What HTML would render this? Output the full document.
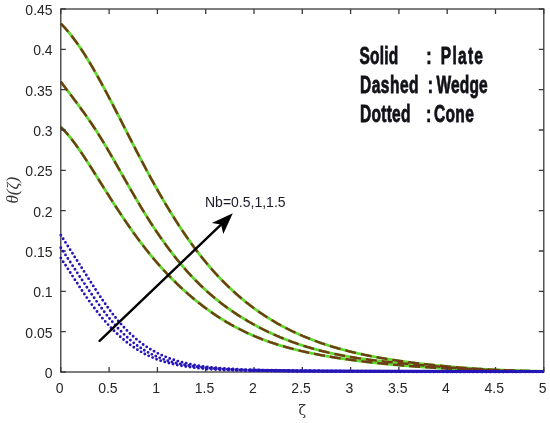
<!DOCTYPE html>
<html><head><meta charset="utf-8"><style>
html,body{margin:0;padding:0;background:#fff;}
svg{display:block;}
</style></head><body>
<svg width="550" height="423" viewBox="0 0 550 423">
<rect width="550" height="423" fill="#fff"/>
<g fill="none" stroke-linejoin="round">
<path d="M60.8 23.7L61.8 24.7L62.8 25.7L63.8 26.7L64.8 27.8L65.8 28.9L66.8 30.1L67.8 31.2L68.8 32.4L69.8 33.6L70.8 34.9L71.8 36.1L72.8 37.4L73.8 38.7L74.8 40.1L75.8 41.4L76.8 42.8L77.8 44.2L78.8 45.7L79.8 47.1L80.8 48.6L81.8 50.1L82.8 51.6L83.8 53.2L84.8 54.7L85.8 56.3L86.8 57.9L87.8 59.5L88.8 61.2L89.8 62.8L90.8 64.5L91.8 66.2L92.8 67.9L93.8 69.6L94.8 71.4L95.8 73.1L96.8 74.9L97.8 76.7L98.8 78.5L99.8 80.3L100.8 82.1L101.8 83.9L102.8 85.8L103.8 87.6L104.8 89.5L105.8 91.4L106.8 93.3L107.8 95.2L108.8 97.1L109.8 99.0L110.8 100.9L111.8 102.8L112.8 104.7L113.8 106.7L114.8 108.6L115.8 110.6L116.8 112.5L117.8 114.5L118.8 116.4L119.8 118.4L120.8 120.3L121.8 122.3L122.8 124.3L123.8 126.2L124.8 128.2L125.8 130.1L126.8 132.1L127.8 134.1L128.8 136.0L129.8 138.0L130.8 139.9L131.8 141.9L132.8 143.8L133.8 145.8L134.8 147.7L135.8 149.6L136.8 151.6L137.8 153.5L138.8 155.4L139.8 157.3L140.8 159.2L141.8 161.2L142.8 163.0L143.8 164.9L144.8 166.8L145.8 168.7L146.8 170.6L147.8 172.4L148.8 174.3L149.8 176.1L150.8 178.0L151.8 179.8L152.8 181.6L153.8 183.4L154.8 185.2L155.8 187.0L156.8 188.8L157.8 190.6L158.8 192.3L159.8 194.1L160.8 195.8L161.8 197.5L162.8 199.3L163.8 201.0L164.8 202.7L165.8 204.4L166.8 206.0L167.8 207.7L168.8 209.3L169.8 211.0L170.8 212.6L171.8 214.2L172.8 215.9L173.8 217.4L174.8 219.0L175.8 220.6L176.8 222.2L177.8 223.7L178.8 225.3L179.8 226.8L180.8 228.3L181.8 229.8L182.8 231.3L183.8 232.8L184.8 234.2L185.8 235.7L186.8 237.1L187.8 238.6L188.8 240.0L189.8 241.4L190.8 242.8L191.8 244.2L192.8 245.5L193.8 246.9L194.8 248.2L195.8 249.6L196.8 250.9L197.8 252.2L198.8 253.5L199.8 254.8L200.8 256.0L201.8 257.3L202.8 258.5L203.8 259.8L204.8 261.0L205.8 262.2L206.8 263.4L207.8 264.6L208.8 265.8L209.8 266.9L210.8 268.1L211.8 269.2L212.8 270.4L213.8 271.5L214.8 272.6L215.8 273.7L216.8 274.8L217.8 275.9L218.8 276.9L219.8 278.0L220.8 279.0L221.8 280.1L222.8 281.1L223.8 282.1L224.8 283.1L225.8 284.1L226.8 285.1L227.8 286.1L228.8 287.0L229.8 288.0L230.8 288.9L231.8 289.8L232.8 290.8L233.8 291.7L234.8 292.6L235.8 293.5L236.8 294.4L237.8 295.3L238.8 296.1L239.8 297.0L240.8 297.8L241.8 298.7L242.8 299.5L243.8 300.3L244.8 301.1L245.8 302.0L246.8 302.8L247.8 303.5L248.8 304.3L249.8 305.1L250.8 305.9L251.8 306.6L252.8 307.4L253.8 308.1L254.8 308.8L255.8 309.6L256.8 310.3L257.8 311.0L258.8 311.7L259.8 312.4L260.8 313.1L261.8 313.8L262.8 314.4L263.8 315.1L264.8 315.7L265.8 316.4L266.8 317.0L267.8 317.7L268.8 318.3L269.8 318.9L270.8 319.5L271.8 320.1L272.8 320.7L273.8 321.3L274.8 321.9L275.8 322.5L276.8 323.1L277.8 323.7L278.8 324.2L279.8 324.8L280.8 325.3L281.8 325.9L282.8 326.4L283.8 326.9L284.8 327.5L285.8 328.0L286.8 328.5L287.8 329.0L288.8 329.5L289.8 330.0L290.8 330.5L291.8 331.0L292.8 331.5L293.8 331.9L294.8 332.4L295.8 332.9L296.8 333.3L297.8 333.8L298.8 334.2L299.8 334.7L300.8 335.1L301.8 335.5L302.8 336.0L303.8 336.4L304.8 336.8L305.8 337.2L306.8 337.6L307.8 338.0L308.8 338.4L309.8 338.8L310.8 339.2L311.8 339.6L312.8 340.0L313.8 340.4L314.8 340.8L315.8 341.1L316.8 341.5L317.8 341.9L318.8 342.2L319.8 342.6L320.8 342.9L321.8 343.3L322.8 343.6L323.8 343.9L324.8 344.3L325.8 344.6L326.8 344.9L327.8 345.2L328.8 345.6L329.8 345.9L330.8 346.2L331.8 346.5L332.8 346.8L333.8 347.1L334.8 347.4L335.8 347.7L336.8 348.0L337.8 348.3L338.8 348.6L339.8 348.8L340.8 349.1L341.8 349.4L342.8 349.7L343.8 349.9L344.8 350.2L345.8 350.4L346.8 350.7L347.8 351.0L348.8 351.2L349.8 351.5L350.8 351.7L351.8 352.0L352.8 352.2L353.8 352.4L354.8 352.7L355.8 352.9L356.8 353.1L357.8 353.4L358.8 353.6L359.8 353.8L360.8 354.0L361.8 354.2L362.8 354.5L363.8 354.7L364.8 354.9L365.8 355.1L366.8 355.3L367.8 355.5L368.8 355.7L369.8 355.9L370.8 356.1L371.8 356.3L372.8 356.5L373.8 356.7L374.8 356.8L375.8 357.0L376.8 357.2L377.8 357.4L378.8 357.6L379.8 357.8L380.8 357.9L381.8 358.1L382.8 358.3L383.8 358.4L384.8 358.6L385.8 358.8L386.8 358.9L387.8 359.1L388.8 359.3L389.8 359.4L390.8 359.6L391.8 359.7L392.8 359.9L393.8 360.1L394.8 360.2L395.8 360.4L396.8 360.5L397.8 360.7L398.8 360.8L399.8 360.9L400.8 361.1L401.8 361.2L402.8 361.4L403.8 361.5L404.8 361.7L405.8 361.8L406.8 361.9L407.8 362.1L408.8 362.2L409.8 362.3L410.8 362.5L411.8 362.6L412.8 362.7L413.8 362.8L414.8 363.0L415.8 363.1L416.8 363.2L417.8 363.3L418.8 363.5L419.8 363.6L420.8 363.7L421.8 363.8L422.8 363.9L423.8 364.0L424.8 364.2L425.8 364.3L426.8 364.4L427.8 364.5L428.8 364.6L429.8 364.7L430.8 364.8L431.8 364.9L432.8 365.0L433.8 365.1L434.8 365.2L435.8 365.3L436.8 365.4L437.8 365.6L438.8 365.7L439.8 365.8L440.8 365.8L441.8 365.9L442.8 366.0L443.8 366.1L444.8 366.2L445.8 366.3L446.8 366.4L447.8 366.5L448.8 366.6L449.8 366.7L450.8 366.8L451.8 366.9L452.8 367.0L453.8 367.0L454.8 367.1L455.8 367.2L456.8 367.3L457.8 367.4L458.8 367.5L459.8 367.6L460.8 367.6L461.8 367.7L462.8 367.8L463.8 367.9L464.8 367.9L465.8 368.0L466.8 368.1L467.8 368.2L468.8 368.2L469.8 368.3L470.8 368.4L471.8 368.5L472.8 368.5L473.8 368.6L474.8 368.7L475.8 368.7L476.8 368.8L477.8 368.9L478.8 368.9L479.8 369.0L480.8 369.0L481.8 369.1L482.8 369.2L483.8 369.2L484.8 369.3L485.8 369.3L486.8 369.4L487.8 369.4L488.8 369.5L489.8 369.6L490.8 369.6L491.8 369.7L492.8 369.7L493.8 369.8L494.8 369.8L495.8 369.9L496.8 369.9L497.8 369.9L498.8 370.0L499.8 370.0L500.8 370.1L501.8 370.1L502.8 370.2L503.8 370.2L504.8 370.2L505.8 370.3L506.8 370.3L507.8 370.4L508.8 370.4L509.8 370.4L510.8 370.5L511.8 370.5L512.8 370.5L513.8 370.6L514.8 370.6L515.8 370.6L516.8 370.7L517.8 370.7L518.8 370.7L519.8 370.8L520.8 370.8L521.8 370.8L522.8 370.9L523.8 370.9L524.8 370.9L525.8 370.9L526.8 371.0L527.8 371.0L528.8 371.0L529.8 371.0L530.8 371.1L531.8 371.1L532.8 371.1L533.8 371.1L534.8 371.1L535.8 371.2L536.8 371.2L537.8 371.2L538.8 371.2L539.8 371.2L540.8 371.3L541.8 371.3L542.8 371.3L543.8 371.3" stroke="#62d82e" stroke-width="2.8"/>
<path d="M60.8 81.8L61.8 83.1L62.8 84.4L63.8 85.8L64.8 87.1L65.8 88.4L66.8 89.7L67.8 91.0L68.8 92.3L69.8 93.7L70.8 95.0L71.8 96.3L72.8 97.6L73.8 98.9L74.8 100.3L75.8 101.6L76.8 102.9L77.8 104.3L78.8 105.6L79.8 107.0L80.8 108.4L81.8 109.7L82.8 111.1L83.8 112.5L84.8 113.9L85.8 115.3L86.8 116.7L87.8 118.2L88.8 119.6L89.8 121.1L90.8 122.5L91.8 124.0L92.8 125.5L93.8 127.0L94.8 128.5L95.8 130.1L96.8 131.6L97.8 133.2L98.8 134.8L99.8 136.4L100.8 138.0L101.8 139.6L102.8 141.2L103.8 142.9L104.8 144.6L105.8 146.2L106.8 147.9L107.8 149.6L108.8 151.3L109.8 153.0L110.8 154.8L111.8 156.5L112.8 158.2L113.8 160.0L114.8 161.7L115.8 163.5L116.8 165.2L117.8 167.0L118.8 168.7L119.8 170.5L120.8 172.3L121.8 174.0L122.8 175.8L123.8 177.5L124.8 179.3L125.8 181.0L126.8 182.8L127.8 184.5L128.8 186.3L129.8 188.0L130.8 189.8L131.8 191.5L132.8 193.2L133.8 194.9L134.8 196.7L135.8 198.4L136.8 200.1L137.8 201.8L138.8 203.4L139.8 205.1L140.8 206.8L141.8 208.4L142.8 210.1L143.8 211.7L144.8 213.3L145.8 215.0L146.8 216.6L147.8 218.2L148.8 219.7L149.8 221.3L150.8 222.9L151.8 224.4L152.8 225.9L153.8 227.5L154.8 229.0L155.8 230.5L156.8 232.0L157.8 233.4L158.8 234.9L159.8 236.4L160.8 237.8L161.8 239.2L162.8 240.6L163.8 242.0L164.8 243.4L165.8 244.8L166.8 246.2L167.8 247.5L168.8 248.9L169.8 250.2L170.8 251.5L171.8 252.8L172.8 254.1L173.8 255.4L174.8 256.7L175.8 257.9L176.8 259.2L177.8 260.4L178.8 261.6L179.8 262.8L180.8 264.0L181.8 265.2L182.8 266.4L183.8 267.6L184.8 268.7L185.8 269.8L186.8 271.0L187.8 272.1L188.8 273.2L189.8 274.3L190.8 275.4L191.8 276.4L192.8 277.5L193.8 278.5L194.8 279.6L195.8 280.6L196.8 281.6L197.8 282.6L198.8 283.6L199.8 284.6L200.8 285.6L201.8 286.5L202.8 287.5L203.8 288.4L204.8 289.3L205.8 290.2L206.8 291.2L207.8 292.1L208.8 292.9L209.8 293.8L210.8 294.7L211.8 295.5L212.8 296.4L213.8 297.2L214.8 298.1L215.8 298.9L216.8 299.7L217.8 300.5L218.8 301.3L219.8 302.1L220.8 302.9L221.8 303.7L222.8 304.4L223.8 305.2L224.8 305.9L225.8 306.7L226.8 307.4L227.8 308.1L228.8 308.8L229.8 309.5L230.8 310.2L231.8 310.9L232.8 311.6L233.8 312.3L234.8 313.0L235.8 313.6L236.8 314.3L237.8 315.0L238.8 315.6L239.8 316.2L240.8 316.9L241.8 317.5L242.8 318.1L243.8 318.7L244.8 319.3L245.8 319.9L246.8 320.5L247.8 321.1L248.8 321.7L249.8 322.3L250.8 322.8L251.8 323.4L252.8 324.0L253.8 324.5L254.8 325.1L255.8 325.6L256.8 326.1L257.8 326.7L258.8 327.2L259.8 327.7L260.8 328.2L261.8 328.7L262.8 329.2L263.8 329.7L264.8 330.2L265.8 330.7L266.8 331.2L267.8 331.7L268.8 332.2L269.8 332.6L270.8 333.1L271.8 333.5L272.8 334.0L273.8 334.5L274.8 334.9L275.8 335.3L276.8 335.8L277.8 336.2L278.8 336.6L279.8 337.1L280.8 337.5L281.8 337.9L282.8 338.3L283.8 338.7L284.8 339.1L285.8 339.5L286.8 339.9L287.8 340.3L288.8 340.6L289.8 341.0L290.8 341.4L291.8 341.8L292.8 342.1L293.8 342.5L294.8 342.8L295.8 343.2L296.8 343.5L297.8 343.9L298.8 344.2L299.8 344.6L300.8 344.9L301.8 345.2L302.8 345.5L303.8 345.9L304.8 346.2L305.8 346.5L306.8 346.8L307.8 347.1L308.8 347.4L309.8 347.7L310.8 348.0L311.8 348.3L312.8 348.6L313.8 348.8L314.8 349.1L315.8 349.4L316.8 349.7L317.8 349.9L318.8 350.2L319.8 350.5L320.8 350.7L321.8 351.0L322.8 351.2L323.8 351.5L324.8 351.7L325.8 351.9L326.8 352.2L327.8 352.4L328.8 352.7L329.8 352.9L330.8 353.1L331.8 353.3L332.8 353.5L333.8 353.8L334.8 354.0L335.8 354.2L336.8 354.4L337.8 354.6L338.8 354.8L339.8 355.0L340.8 355.2L341.8 355.4L342.8 355.6L343.8 355.8L344.8 355.9L345.8 356.1L346.8 356.3L347.8 356.5L348.8 356.7L349.8 356.8L350.8 357.0L351.8 357.2L352.8 357.3L353.8 357.5L354.8 357.7L355.8 357.8L356.8 358.0L357.8 358.1L358.8 358.3L359.8 358.4L360.8 358.6L361.8 358.7L362.8 358.9L363.8 359.0L364.8 359.1L365.8 359.3L366.8 359.4L367.8 359.5L368.8 359.7L369.8 359.8L370.8 359.9L371.8 360.1L372.8 360.2L373.8 360.3L374.8 360.4L375.8 360.6L376.8 360.7L377.8 360.8L378.8 360.9L379.8 361.0L380.8 361.1L381.8 361.3L382.8 361.4L383.8 361.5L384.8 361.6L385.8 361.7L386.8 361.8L387.8 361.9L388.8 362.0L389.8 362.1L390.8 362.2L391.8 362.3L392.8 362.4L393.8 362.5L394.8 362.6L395.8 362.7L396.8 362.8L397.8 362.9L398.8 363.0L399.8 363.1L400.8 363.2L401.8 363.3L402.8 363.4L403.8 363.5L404.8 363.6L405.8 363.7L406.8 363.8L407.8 363.9L408.8 364.0L409.8 364.1L410.8 364.2L411.8 364.3L412.8 364.3L413.8 364.4L414.8 364.5L415.8 364.6L416.8 364.7L417.8 364.8L418.8 364.9L419.8 365.0L420.8 365.1L421.8 365.2L422.8 365.2L423.8 365.3L424.8 365.4L425.8 365.5L426.8 365.6L427.8 365.7L428.8 365.8L429.8 365.8L430.8 365.9L431.8 366.0L432.8 366.1L433.8 366.2L434.8 366.3L435.8 366.3L436.8 366.4L437.8 366.5L438.8 366.6L439.8 366.7L440.8 366.8L441.8 366.8L442.8 366.9L443.8 367.0L444.8 367.1L445.8 367.2L446.8 367.3L447.8 367.3L448.8 367.4L449.8 367.5L450.8 367.6L451.8 367.7L452.8 367.7L453.8 367.8L454.8 367.9L455.8 368.0L456.8 368.0L457.8 368.1L458.8 368.2L459.8 368.3L460.8 368.3L461.8 368.4L462.8 368.5L463.8 368.6L464.8 368.6L465.8 368.7L466.8 368.8L467.8 368.8L468.8 368.9L469.8 369.0L470.8 369.0L471.8 369.1L472.8 369.2L473.8 369.2L474.8 369.3L475.8 369.4L476.8 369.4L477.8 369.5L478.8 369.5L479.8 369.6L480.8 369.7L481.8 369.7L482.8 369.8L483.8 369.8L484.8 369.9L485.8 369.9L486.8 370.0L487.8 370.0L488.8 370.1L489.8 370.1L490.8 370.2L491.8 370.2L492.8 370.3L493.8 370.3L494.8 370.3L495.8 370.4L496.8 370.4L497.8 370.5L498.8 370.5L499.8 370.5L500.8 370.6L501.8 370.6L502.8 370.7L503.8 370.7L504.8 370.7L505.8 370.8L506.8 370.8L507.8 370.8L508.8 370.8L509.8 370.9L510.8 370.9L511.8 370.9L512.8 371.0L513.8 371.0L514.8 371.0L515.8 371.0L516.8 371.1L517.8 371.1L518.8 371.1L519.8 371.1L520.8 371.1L521.8 371.2L522.8 371.2L523.8 371.2L524.8 371.2L525.8 371.2L526.8 371.2L527.8 371.3L528.8 371.3L529.8 371.3L530.8 371.3L531.8 371.3L532.8 371.3L533.8 371.3L534.8 371.3L535.8 371.3L536.8 371.4L537.8 371.4L538.8 371.4L539.8 371.4L540.8 371.4L541.8 371.4L542.8 371.4L543.8 371.4" stroke="#62d82e" stroke-width="2.8"/>
<path d="M60.8 127.1L61.8 128.1L62.8 129.1L63.8 130.1L64.8 131.2L65.8 132.3L66.8 133.4L67.8 134.5L68.8 135.7L69.8 136.9L70.8 138.2L71.8 139.5L72.8 140.7L73.8 142.1L74.8 143.4L75.8 144.8L76.8 146.2L77.8 147.6L78.8 149.0L79.8 150.4L80.8 151.9L81.8 153.3L82.8 154.8L83.8 156.3L84.8 157.8L85.8 159.4L86.8 160.9L87.8 162.5L88.8 164.0L89.8 165.6L90.8 167.1L91.8 168.7L92.8 170.3L93.8 171.9L94.8 173.5L95.8 175.1L96.8 176.7L97.8 178.3L98.8 179.8L99.8 181.4L100.8 183.0L101.8 184.6L102.8 186.2L103.8 187.8L104.8 189.4L105.8 191.0L106.8 192.6L107.8 194.1L108.8 195.7L109.8 197.3L110.8 198.9L111.8 200.4L112.8 202.0L113.8 203.5L114.8 205.1L115.8 206.6L116.8 208.1L117.8 209.7L118.8 211.2L119.8 212.7L120.8 214.2L121.8 215.7L122.8 217.2L123.8 218.7L124.8 220.2L125.8 221.6L126.8 223.1L127.8 224.5L128.8 226.0L129.8 227.4L130.8 228.8L131.8 230.3L132.8 231.7L133.8 233.1L134.8 234.5L135.8 235.8L136.8 237.2L137.8 238.6L138.8 239.9L139.8 241.3L140.8 242.6L141.8 243.9L142.8 245.2L143.8 246.5L144.8 247.8L145.8 249.1L146.8 250.3L147.8 251.6L148.8 252.8L149.8 254.1L150.8 255.3L151.8 256.5L152.8 257.7L153.8 258.9L154.8 260.1L155.8 261.3L156.8 262.4L157.8 263.6L158.8 264.7L159.8 265.8L160.8 267.0L161.8 268.1L162.8 269.2L163.8 270.3L164.8 271.3L165.8 272.4L166.8 273.5L167.8 274.5L168.8 275.6L169.8 276.6L170.8 277.6L171.8 278.7L172.8 279.7L173.8 280.7L174.8 281.6L175.8 282.6L176.8 283.6L177.8 284.6L178.8 285.5L179.8 286.5L180.8 287.4L181.8 288.3L182.8 289.2L183.8 290.1L184.8 291.1L185.8 291.9L186.8 292.8L187.8 293.7L188.8 294.6L189.8 295.4L190.8 296.3L191.8 297.1L192.8 298.0L193.8 298.8L194.8 299.6L195.8 300.5L196.8 301.3L197.8 302.1L198.8 302.9L199.8 303.6L200.8 304.4L201.8 305.2L202.8 306.0L203.8 306.7L204.8 307.5L205.8 308.2L206.8 308.9L207.8 309.7L208.8 310.4L209.8 311.1L210.8 311.8L211.8 312.5L212.8 313.2L213.8 313.9L214.8 314.6L215.8 315.2L216.8 315.9L217.8 316.6L218.8 317.2L219.8 317.8L220.8 318.5L221.8 319.1L222.8 319.7L223.8 320.3L224.8 321.0L225.8 321.6L226.8 322.2L227.8 322.7L228.8 323.3L229.8 323.9L230.8 324.5L231.8 325.0L232.8 325.6L233.8 326.1L234.8 326.7L235.8 327.2L236.8 327.7L237.8 328.3L238.8 328.8L239.8 329.3L240.8 329.8L241.8 330.3L242.8 330.8L243.8 331.3L244.8 331.8L245.8 332.2L246.8 332.7L247.8 333.2L248.8 333.6L249.8 334.1L250.8 334.5L251.8 335.0L252.8 335.4L253.8 335.8L254.8 336.3L255.8 336.7L256.8 337.1L257.8 337.5L258.8 337.9L259.8 338.3L260.8 338.7L261.8 339.1L262.8 339.5L263.8 339.8L264.8 340.2L265.8 340.6L266.8 341.0L267.8 341.3L268.8 341.7L269.8 342.0L270.8 342.4L271.8 342.7L272.8 343.0L273.8 343.4L274.8 343.7L275.8 344.0L276.8 344.3L277.8 344.6L278.8 345.0L279.8 345.3L280.8 345.6L281.8 345.9L282.8 346.2L283.8 346.4L284.8 346.7L285.8 347.0L286.8 347.3L287.8 347.6L288.8 347.8L289.8 348.1L290.8 348.4L291.8 348.6L292.8 348.9L293.8 349.2L294.8 349.4L295.8 349.7L296.8 349.9L297.8 350.2L298.8 350.4L299.8 350.6L300.8 350.9L301.8 351.1L302.8 351.3L303.8 351.6L304.8 351.8L305.8 352.0L306.8 352.2L307.8 352.5L308.8 352.7L309.8 352.9L310.8 353.1L311.8 353.3L312.8 353.5L313.8 353.7L314.8 353.9L315.8 354.1L316.8 354.3L317.8 354.5L318.8 354.7L319.8 354.9L320.8 355.1L321.8 355.3L322.8 355.4L323.8 355.6L324.8 355.8L325.8 356.0L326.8 356.1L327.8 356.3L328.8 356.5L329.8 356.7L330.8 356.8L331.8 357.0L332.8 357.2L333.8 357.3L334.8 357.5L335.8 357.7L336.8 357.8L337.8 358.0L338.8 358.1L339.8 358.3L340.8 358.4L341.8 358.6L342.8 358.7L343.8 358.9L344.8 359.0L345.8 359.2L346.8 359.3L347.8 359.4L348.8 359.6L349.8 359.7L350.8 359.9L351.8 360.0L352.8 360.1L353.8 360.3L354.8 360.4L355.8 360.5L356.8 360.7L357.8 360.8L358.8 360.9L359.8 361.0L360.8 361.2L361.8 361.3L362.8 361.4L363.8 361.5L364.8 361.7L365.8 361.8L366.8 361.9L367.8 362.0L368.8 362.1L369.8 362.2L370.8 362.3L371.8 362.5L372.8 362.6L373.8 362.7L374.8 362.8L375.8 362.9L376.8 363.0L377.8 363.1L378.8 363.2L379.8 363.3L380.8 363.4L381.8 363.5L382.8 363.6L383.8 363.7L384.8 363.8L385.8 363.9L386.8 364.0L387.8 364.1L388.8 364.2L389.8 364.3L390.8 364.4L391.8 364.5L392.8 364.6L393.8 364.7L394.8 364.8L395.8 364.9L396.8 364.9L397.8 365.0L398.8 365.1L399.8 365.2L400.8 365.3L401.8 365.4L402.8 365.5L403.8 365.5L404.8 365.6L405.8 365.7L406.8 365.8L407.8 365.9L408.8 365.9L409.8 366.0L410.8 366.1L411.8 366.2L412.8 366.2L413.8 366.3L414.8 366.4L415.8 366.5L416.8 366.5L417.8 366.6L418.8 366.7L419.8 366.7L420.8 366.8L421.8 366.9L422.8 367.0L423.8 367.0L424.8 367.1L425.8 367.2L426.8 367.2L427.8 367.3L428.8 367.3L429.8 367.4L430.8 367.5L431.8 367.5L432.8 367.6L433.8 367.7L434.8 367.7L435.8 367.8L436.8 367.8L437.8 367.9L438.8 368.0L439.8 368.0L440.8 368.1L441.8 368.1L442.8 368.2L443.8 368.2L444.8 368.3L445.8 368.3L446.8 368.4L447.8 368.5L448.8 368.5L449.8 368.6L450.8 368.6L451.8 368.7L452.8 368.7L453.8 368.8L454.8 368.8L455.8 368.9L456.8 368.9L457.8 369.0L458.8 369.0L459.8 369.1L460.8 369.1L461.8 369.1L462.8 369.2L463.8 369.2L464.8 369.3L465.8 369.3L466.8 369.4L467.8 369.4L468.8 369.5L469.8 369.5L470.8 369.5L471.8 369.6L472.8 369.6L473.8 369.7L474.8 369.7L475.8 369.7L476.8 369.8L477.8 369.8L478.8 369.9L479.8 369.9L480.8 369.9L481.8 370.0L482.8 370.0L483.8 370.0L484.8 370.1L485.8 370.1L486.8 370.1L487.8 370.2L488.8 370.2L489.8 370.2L490.8 370.3L491.8 370.3L492.8 370.3L493.8 370.4L494.8 370.4L495.8 370.4L496.8 370.5L497.8 370.5L498.8 370.5L499.8 370.6L500.8 370.6L501.8 370.6L502.8 370.6L503.8 370.7L504.8 370.7L505.8 370.7L506.8 370.7L507.8 370.8L508.8 370.8L509.8 370.8L510.8 370.9L511.8 370.9L512.8 370.9L513.8 370.9L514.8 370.9L515.8 371.0L516.8 371.0L517.8 371.0L518.8 371.0L519.8 371.1L520.8 371.1L521.8 371.1L522.8 371.1L523.8 371.1L524.8 371.2L525.8 371.2L526.8 371.2L527.8 371.2L528.8 371.3L529.8 371.3L530.8 371.3L531.8 371.3L532.8 371.3L533.8 371.3L534.8 371.4L535.8 371.4L536.8 371.4L537.8 371.4L538.8 371.4L539.8 371.4L540.8 371.5L541.8 371.5L542.8 371.5L543.8 371.5" stroke="#62d82e" stroke-width="2.8"/>
<path d="M60.8 23.7L61.8 24.7L62.8 25.7L63.8 26.7L64.8 27.8L65.8 28.9L66.8 30.1L67.8 31.2L68.8 32.4L69.8 33.6L70.8 34.9L71.8 36.1L72.8 37.4L73.8 38.7L74.8 40.1L75.8 41.4L76.8 42.8L77.8 44.2L78.8 45.7L79.8 47.1L80.8 48.6L81.8 50.1L82.8 51.6L83.8 53.2L84.8 54.7L85.8 56.3L86.8 57.9L87.8 59.5L88.8 61.2L89.8 62.8L90.8 64.5L91.8 66.2L92.8 67.9L93.8 69.6L94.8 71.4L95.8 73.1L96.8 74.9L97.8 76.7L98.8 78.5L99.8 80.3L100.8 82.1L101.8 83.9L102.8 85.8L103.8 87.6L104.8 89.5L105.8 91.4L106.8 93.3L107.8 95.2L108.8 97.1L109.8 99.0L110.8 100.9L111.8 102.8L112.8 104.7L113.8 106.7L114.8 108.6L115.8 110.6L116.8 112.5L117.8 114.5L118.8 116.4L119.8 118.4L120.8 120.3L121.8 122.3L122.8 124.3L123.8 126.2L124.8 128.2L125.8 130.1L126.8 132.1L127.8 134.1L128.8 136.0L129.8 138.0L130.8 139.9L131.8 141.9L132.8 143.8L133.8 145.8L134.8 147.7L135.8 149.6L136.8 151.6L137.8 153.5L138.8 155.4L139.8 157.3L140.8 159.2L141.8 161.2L142.8 163.0L143.8 164.9L144.8 166.8L145.8 168.7L146.8 170.6L147.8 172.4L148.8 174.3L149.8 176.1L150.8 178.0L151.8 179.8L152.8 181.6L153.8 183.4L154.8 185.2L155.8 187.0L156.8 188.8L157.8 190.6L158.8 192.3L159.8 194.1L160.8 195.8L161.8 197.5L162.8 199.3L163.8 201.0L164.8 202.7L165.8 204.4L166.8 206.0L167.8 207.7L168.8 209.3L169.8 211.0L170.8 212.6L171.8 214.2L172.8 215.9L173.8 217.4L174.8 219.0L175.8 220.6L176.8 222.2L177.8 223.7L178.8 225.3L179.8 226.8L180.8 228.3L181.8 229.8L182.8 231.3L183.8 232.8L184.8 234.2L185.8 235.7L186.8 237.1L187.8 238.6L188.8 240.0L189.8 241.4L190.8 242.8L191.8 244.2L192.8 245.5L193.8 246.9L194.8 248.2L195.8 249.6L196.8 250.9L197.8 252.2L198.8 253.5L199.8 254.8L200.8 256.0L201.8 257.3L202.8 258.5L203.8 259.8L204.8 261.0L205.8 262.2L206.8 263.4L207.8 264.6L208.8 265.8L209.8 266.9L210.8 268.1L211.8 269.2L212.8 270.4L213.8 271.5L214.8 272.6L215.8 273.7L216.8 274.8L217.8 275.9L218.8 276.9L219.8 278.0L220.8 279.0L221.8 280.1L222.8 281.1L223.8 282.1L224.8 283.1L225.8 284.1L226.8 285.1L227.8 286.1L228.8 287.0L229.8 288.0L230.8 288.9L231.8 289.8L232.8 290.8L233.8 291.7L234.8 292.6L235.8 293.5L236.8 294.4L237.8 295.3L238.8 296.1L239.8 297.0L240.8 297.8L241.8 298.7L242.8 299.5L243.8 300.3L244.8 301.1L245.8 302.0L246.8 302.8L247.8 303.5L248.8 304.3L249.8 305.1L250.8 305.9L251.8 306.6L252.8 307.4L253.8 308.1L254.8 308.8L255.8 309.6L256.8 310.3L257.8 311.0L258.8 311.7L259.8 312.4L260.8 313.1L261.8 313.8L262.8 314.4L263.8 315.1L264.8 315.7L265.8 316.4L266.8 317.0L267.8 317.7L268.8 318.3L269.8 318.9L270.8 319.5L271.8 320.1L272.8 320.7L273.8 321.3L274.8 321.9L275.8 322.5L276.8 323.1L277.8 323.7L278.8 324.2L279.8 324.8L280.8 325.3L281.8 325.9L282.8 326.4L283.8 326.9L284.8 327.5L285.8 328.0L286.8 328.5L287.8 329.0L288.8 329.5L289.8 330.0L290.8 330.5L291.8 331.0L292.8 331.5L293.8 331.9L294.8 332.4L295.8 332.9L296.8 333.3L297.8 333.8L298.8 334.2L299.8 334.7L300.8 335.1L301.8 335.5L302.8 336.0L303.8 336.4L304.8 336.8L305.8 337.2L306.8 337.6L307.8 338.0L308.8 338.4L309.8 338.8L310.8 339.2L311.8 339.6L312.8 340.0L313.8 340.4L314.8 340.8L315.8 341.1L316.8 341.5L317.8 341.9L318.8 342.2L319.8 342.6L320.8 342.9L321.8 343.3L322.8 343.6L323.8 343.9L324.8 344.3L325.8 344.6L326.8 344.9L327.8 345.2L328.8 345.6L329.8 345.9L330.8 346.2L331.8 346.5L332.8 346.8L333.8 347.1L334.8 347.4L335.8 347.7L336.8 348.0L337.8 348.3L338.8 348.6L339.8 348.8L340.8 349.1L341.8 349.4L342.8 349.7L343.8 349.9L344.8 350.2L345.8 350.4L346.8 350.7L347.8 351.0L348.8 351.2L349.8 351.5L350.8 351.7L351.8 352.0L352.8 352.2L353.8 352.4L354.8 352.7L355.8 352.9L356.8 353.1L357.8 353.4L358.8 353.6L359.8 353.8L360.8 354.0L361.8 354.2L362.8 354.5L363.8 354.7L364.8 354.9L365.8 355.1L366.8 355.3L367.8 355.5L368.8 355.7L369.8 355.9L370.8 356.1L371.8 356.3L372.8 356.5L373.8 356.7L374.8 356.8L375.8 357.0L376.8 357.2L377.8 357.4L378.8 357.6L379.8 357.8L380.8 357.9L381.8 358.1L382.8 358.3L383.8 358.4L384.8 358.6L385.8 358.8L386.8 358.9L387.8 359.1L388.8 359.3L389.8 359.4L390.8 359.6L391.8 359.7L392.8 359.9L393.8 360.1L394.8 360.2L395.8 360.4L396.8 360.5L397.8 360.7L398.8 360.8L399.8 360.9L400.8 361.1L401.8 361.2L402.8 361.4L403.8 361.5L404.8 361.7L405.8 361.8L406.8 361.9L407.8 362.1L408.8 362.2L409.8 362.3L410.8 362.5L411.8 362.6L412.8 362.7L413.8 362.8L414.8 363.0L415.8 363.1L416.8 363.2L417.8 363.3L418.8 363.5L419.8 363.6L420.8 363.7L421.8 363.8L422.8 363.9L423.8 364.0L424.8 364.2L425.8 364.3L426.8 364.4L427.8 364.5L428.8 364.6L429.8 364.7L430.8 364.8L431.8 364.9L432.8 365.0L433.8 365.1L434.8 365.2L435.8 365.3L436.8 365.4L437.8 365.6L438.8 365.7L439.8 365.8L440.8 365.8L441.8 365.9L442.8 366.0L443.8 366.1L444.8 366.2L445.8 366.3L446.8 366.4L447.8 366.5L448.8 366.6L449.8 366.7L450.8 366.8L451.8 366.9L452.8 367.0L453.8 367.0L454.8 367.1L455.8 367.2L456.8 367.3L457.8 367.4L458.8 367.5L459.8 367.6L460.8 367.6L461.8 367.7L462.8 367.8L463.8 367.9L464.8 367.9L465.8 368.0L466.8 368.1L467.8 368.2L468.8 368.2L469.8 368.3L470.8 368.4L471.8 368.5L472.8 368.5L473.8 368.6L474.8 368.7L475.8 368.7L476.8 368.8L477.8 368.9L478.8 368.9L479.8 369.0L480.8 369.0L481.8 369.1L482.8 369.2L483.8 369.2L484.8 369.3L485.8 369.3L486.8 369.4L487.8 369.4L488.8 369.5L489.8 369.6L490.8 369.6L491.8 369.7L492.8 369.7L493.8 369.8L494.8 369.8L495.8 369.9L496.8 369.9L497.8 369.9L498.8 370.0L499.8 370.0L500.8 370.1L501.8 370.1L502.8 370.2L503.8 370.2L504.8 370.2L505.8 370.3L506.8 370.3L507.8 370.4L508.8 370.4L509.8 370.4L510.8 370.5L511.8 370.5L512.8 370.5L513.8 370.6L514.8 370.6L515.8 370.6L516.8 370.7L517.8 370.7L518.8 370.7L519.8 370.8L520.8 370.8L521.8 370.8L522.8 370.9L523.8 370.9L524.8 370.9L525.8 370.9L526.8 371.0L527.8 371.0L528.8 371.0L529.8 371.0L530.8 371.1L531.8 371.1L532.8 371.1L533.8 371.1L534.8 371.1L535.8 371.2L536.8 371.2L537.8 371.2L538.8 371.2L539.8 371.2L540.8 371.3L541.8 371.3L542.8 371.3L543.8 371.3" stroke="#703c16" stroke-width="2.4" stroke-dasharray="11 5"/>
<path d="M60.8 81.8L61.8 83.1L62.8 84.4L63.8 85.8L64.8 87.1L65.8 88.4L66.8 89.7L67.8 91.0L68.8 92.3L69.8 93.7L70.8 95.0L71.8 96.3L72.8 97.6L73.8 98.9L74.8 100.3L75.8 101.6L76.8 102.9L77.8 104.3L78.8 105.6L79.8 107.0L80.8 108.4L81.8 109.7L82.8 111.1L83.8 112.5L84.8 113.9L85.8 115.3L86.8 116.7L87.8 118.2L88.8 119.6L89.8 121.1L90.8 122.5L91.8 124.0L92.8 125.5L93.8 127.0L94.8 128.5L95.8 130.1L96.8 131.6L97.8 133.2L98.8 134.8L99.8 136.4L100.8 138.0L101.8 139.6L102.8 141.2L103.8 142.9L104.8 144.6L105.8 146.2L106.8 147.9L107.8 149.6L108.8 151.3L109.8 153.0L110.8 154.8L111.8 156.5L112.8 158.2L113.8 160.0L114.8 161.7L115.8 163.5L116.8 165.2L117.8 167.0L118.8 168.7L119.8 170.5L120.8 172.3L121.8 174.0L122.8 175.8L123.8 177.5L124.8 179.3L125.8 181.0L126.8 182.8L127.8 184.5L128.8 186.3L129.8 188.0L130.8 189.8L131.8 191.5L132.8 193.2L133.8 194.9L134.8 196.7L135.8 198.4L136.8 200.1L137.8 201.8L138.8 203.4L139.8 205.1L140.8 206.8L141.8 208.4L142.8 210.1L143.8 211.7L144.8 213.3L145.8 215.0L146.8 216.6L147.8 218.2L148.8 219.7L149.8 221.3L150.8 222.9L151.8 224.4L152.8 225.9L153.8 227.5L154.8 229.0L155.8 230.5L156.8 232.0L157.8 233.4L158.8 234.9L159.8 236.4L160.8 237.8L161.8 239.2L162.8 240.6L163.8 242.0L164.8 243.4L165.8 244.8L166.8 246.2L167.8 247.5L168.8 248.9L169.8 250.2L170.8 251.5L171.8 252.8L172.8 254.1L173.8 255.4L174.8 256.7L175.8 257.9L176.8 259.2L177.8 260.4L178.8 261.6L179.8 262.8L180.8 264.0L181.8 265.2L182.8 266.4L183.8 267.6L184.8 268.7L185.8 269.8L186.8 271.0L187.8 272.1L188.8 273.2L189.8 274.3L190.8 275.4L191.8 276.4L192.8 277.5L193.8 278.5L194.8 279.6L195.8 280.6L196.8 281.6L197.8 282.6L198.8 283.6L199.8 284.6L200.8 285.6L201.8 286.5L202.8 287.5L203.8 288.4L204.8 289.3L205.8 290.2L206.8 291.2L207.8 292.1L208.8 292.9L209.8 293.8L210.8 294.7L211.8 295.5L212.8 296.4L213.8 297.2L214.8 298.1L215.8 298.9L216.8 299.7L217.8 300.5L218.8 301.3L219.8 302.1L220.8 302.9L221.8 303.7L222.8 304.4L223.8 305.2L224.8 305.9L225.8 306.7L226.8 307.4L227.8 308.1L228.8 308.8L229.8 309.5L230.8 310.2L231.8 310.9L232.8 311.6L233.8 312.3L234.8 313.0L235.8 313.6L236.8 314.3L237.8 315.0L238.8 315.6L239.8 316.2L240.8 316.9L241.8 317.5L242.8 318.1L243.8 318.7L244.8 319.3L245.8 319.9L246.8 320.5L247.8 321.1L248.8 321.7L249.8 322.3L250.8 322.8L251.8 323.4L252.8 324.0L253.8 324.5L254.8 325.1L255.8 325.6L256.8 326.1L257.8 326.7L258.8 327.2L259.8 327.7L260.8 328.2L261.8 328.7L262.8 329.2L263.8 329.7L264.8 330.2L265.8 330.7L266.8 331.2L267.8 331.7L268.8 332.2L269.8 332.6L270.8 333.1L271.8 333.5L272.8 334.0L273.8 334.5L274.8 334.9L275.8 335.3L276.8 335.8L277.8 336.2L278.8 336.6L279.8 337.1L280.8 337.5L281.8 337.9L282.8 338.3L283.8 338.7L284.8 339.1L285.8 339.5L286.8 339.9L287.8 340.3L288.8 340.6L289.8 341.0L290.8 341.4L291.8 341.8L292.8 342.1L293.8 342.5L294.8 342.8L295.8 343.2L296.8 343.5L297.8 343.9L298.8 344.2L299.8 344.6L300.8 344.9L301.8 345.2L302.8 345.5L303.8 345.9L304.8 346.2L305.8 346.5L306.8 346.8L307.8 347.1L308.8 347.4L309.8 347.7L310.8 348.0L311.8 348.3L312.8 348.6L313.8 348.8L314.8 349.1L315.8 349.4L316.8 349.7L317.8 349.9L318.8 350.2L319.8 350.5L320.8 350.7L321.8 351.0L322.8 351.2L323.8 351.5L324.8 351.7L325.8 351.9L326.8 352.2L327.8 352.4L328.8 352.7L329.8 352.9L330.8 353.1L331.8 353.3L332.8 353.5L333.8 353.8L334.8 354.0L335.8 354.2L336.8 354.4L337.8 354.6L338.8 354.8L339.8 355.0L340.8 355.2L341.8 355.4L342.8 355.6L343.8 355.8L344.8 355.9L345.8 356.1L346.8 356.3L347.8 356.5L348.8 356.7L349.8 356.8L350.8 357.0L351.8 357.2L352.8 357.3L353.8 357.5L354.8 357.7L355.8 357.8L356.8 358.0L357.8 358.1L358.8 358.3L359.8 358.4L360.8 358.6L361.8 358.7L362.8 358.9L363.8 359.0L364.8 359.1L365.8 359.3L366.8 359.4L367.8 359.5L368.8 359.7L369.8 359.8L370.8 359.9L371.8 360.1L372.8 360.2L373.8 360.3L374.8 360.4L375.8 360.6L376.8 360.7L377.8 360.8L378.8 360.9L379.8 361.0L380.8 361.1L381.8 361.3L382.8 361.4L383.8 361.5L384.8 361.6L385.8 361.7L386.8 361.8L387.8 361.9L388.8 362.0L389.8 362.1L390.8 362.2L391.8 362.3L392.8 362.4L393.8 362.5L394.8 362.6L395.8 362.7L396.8 362.8L397.8 362.9L398.8 363.0L399.8 363.1L400.8 363.2L401.8 363.3L402.8 363.4L403.8 363.5L404.8 363.6L405.8 363.7L406.8 363.8L407.8 363.9L408.8 364.0L409.8 364.1L410.8 364.2L411.8 364.3L412.8 364.3L413.8 364.4L414.8 364.5L415.8 364.6L416.8 364.7L417.8 364.8L418.8 364.9L419.8 365.0L420.8 365.1L421.8 365.2L422.8 365.2L423.8 365.3L424.8 365.4L425.8 365.5L426.8 365.6L427.8 365.7L428.8 365.8L429.8 365.8L430.8 365.9L431.8 366.0L432.8 366.1L433.8 366.2L434.8 366.3L435.8 366.3L436.8 366.4L437.8 366.5L438.8 366.6L439.8 366.7L440.8 366.8L441.8 366.8L442.8 366.9L443.8 367.0L444.8 367.1L445.8 367.2L446.8 367.3L447.8 367.3L448.8 367.4L449.8 367.5L450.8 367.6L451.8 367.7L452.8 367.7L453.8 367.8L454.8 367.9L455.8 368.0L456.8 368.0L457.8 368.1L458.8 368.2L459.8 368.3L460.8 368.3L461.8 368.4L462.8 368.5L463.8 368.6L464.8 368.6L465.8 368.7L466.8 368.8L467.8 368.8L468.8 368.9L469.8 369.0L470.8 369.0L471.8 369.1L472.8 369.2L473.8 369.2L474.8 369.3L475.8 369.4L476.8 369.4L477.8 369.5L478.8 369.5L479.8 369.6L480.8 369.7L481.8 369.7L482.8 369.8L483.8 369.8L484.8 369.9L485.8 369.9L486.8 370.0L487.8 370.0L488.8 370.1L489.8 370.1L490.8 370.2L491.8 370.2L492.8 370.3L493.8 370.3L494.8 370.3L495.8 370.4L496.8 370.4L497.8 370.5L498.8 370.5L499.8 370.5L500.8 370.6L501.8 370.6L502.8 370.7L503.8 370.7L504.8 370.7L505.8 370.8L506.8 370.8L507.8 370.8L508.8 370.8L509.8 370.9L510.8 370.9L511.8 370.9L512.8 371.0L513.8 371.0L514.8 371.0L515.8 371.0L516.8 371.1L517.8 371.1L518.8 371.1L519.8 371.1L520.8 371.1L521.8 371.2L522.8 371.2L523.8 371.2L524.8 371.2L525.8 371.2L526.8 371.2L527.8 371.3L528.8 371.3L529.8 371.3L530.8 371.3L531.8 371.3L532.8 371.3L533.8 371.3L534.8 371.3L535.8 371.3L536.8 371.4L537.8 371.4L538.8 371.4L539.8 371.4L540.8 371.4L541.8 371.4L542.8 371.4L543.8 371.4" stroke="#703c16" stroke-width="2.4" stroke-dasharray="11 5"/>
<path d="M60.8 127.1L61.8 128.1L62.8 129.1L63.8 130.1L64.8 131.2L65.8 132.3L66.8 133.4L67.8 134.5L68.8 135.7L69.8 136.9L70.8 138.2L71.8 139.5L72.8 140.7L73.8 142.1L74.8 143.4L75.8 144.8L76.8 146.2L77.8 147.6L78.8 149.0L79.8 150.4L80.8 151.9L81.8 153.3L82.8 154.8L83.8 156.3L84.8 157.8L85.8 159.4L86.8 160.9L87.8 162.5L88.8 164.0L89.8 165.6L90.8 167.1L91.8 168.7L92.8 170.3L93.8 171.9L94.8 173.5L95.8 175.1L96.8 176.7L97.8 178.3L98.8 179.8L99.8 181.4L100.8 183.0L101.8 184.6L102.8 186.2L103.8 187.8L104.8 189.4L105.8 191.0L106.8 192.6L107.8 194.1L108.8 195.7L109.8 197.3L110.8 198.9L111.8 200.4L112.8 202.0L113.8 203.5L114.8 205.1L115.8 206.6L116.8 208.1L117.8 209.7L118.8 211.2L119.8 212.7L120.8 214.2L121.8 215.7L122.8 217.2L123.8 218.7L124.8 220.2L125.8 221.6L126.8 223.1L127.8 224.5L128.8 226.0L129.8 227.4L130.8 228.8L131.8 230.3L132.8 231.7L133.8 233.1L134.8 234.5L135.8 235.8L136.8 237.2L137.8 238.6L138.8 239.9L139.8 241.3L140.8 242.6L141.8 243.9L142.8 245.2L143.8 246.5L144.8 247.8L145.8 249.1L146.8 250.3L147.8 251.6L148.8 252.8L149.8 254.1L150.8 255.3L151.8 256.5L152.8 257.7L153.8 258.9L154.8 260.1L155.8 261.3L156.8 262.4L157.8 263.6L158.8 264.7L159.8 265.8L160.8 267.0L161.8 268.1L162.8 269.2L163.8 270.3L164.8 271.3L165.8 272.4L166.8 273.5L167.8 274.5L168.8 275.6L169.8 276.6L170.8 277.6L171.8 278.7L172.8 279.7L173.8 280.7L174.8 281.6L175.8 282.6L176.8 283.6L177.8 284.6L178.8 285.5L179.8 286.5L180.8 287.4L181.8 288.3L182.8 289.2L183.8 290.1L184.8 291.1L185.8 291.9L186.8 292.8L187.8 293.7L188.8 294.6L189.8 295.4L190.8 296.3L191.8 297.1L192.8 298.0L193.8 298.8L194.8 299.6L195.8 300.5L196.8 301.3L197.8 302.1L198.8 302.9L199.8 303.6L200.8 304.4L201.8 305.2L202.8 306.0L203.8 306.7L204.8 307.5L205.8 308.2L206.8 308.9L207.8 309.7L208.8 310.4L209.8 311.1L210.8 311.8L211.8 312.5L212.8 313.2L213.8 313.9L214.8 314.6L215.8 315.2L216.8 315.9L217.8 316.6L218.8 317.2L219.8 317.8L220.8 318.5L221.8 319.1L222.8 319.7L223.8 320.3L224.8 321.0L225.8 321.6L226.8 322.2L227.8 322.7L228.8 323.3L229.8 323.9L230.8 324.5L231.8 325.0L232.8 325.6L233.8 326.1L234.8 326.7L235.8 327.2L236.8 327.7L237.8 328.3L238.8 328.8L239.8 329.3L240.8 329.8L241.8 330.3L242.8 330.8L243.8 331.3L244.8 331.8L245.8 332.2L246.8 332.7L247.8 333.2L248.8 333.6L249.8 334.1L250.8 334.5L251.8 335.0L252.8 335.4L253.8 335.8L254.8 336.3L255.8 336.7L256.8 337.1L257.8 337.5L258.8 337.9L259.8 338.3L260.8 338.7L261.8 339.1L262.8 339.5L263.8 339.8L264.8 340.2L265.8 340.6L266.8 341.0L267.8 341.3L268.8 341.7L269.8 342.0L270.8 342.4L271.8 342.7L272.8 343.0L273.8 343.4L274.8 343.7L275.8 344.0L276.8 344.3L277.8 344.6L278.8 345.0L279.8 345.3L280.8 345.6L281.8 345.9L282.8 346.2L283.8 346.4L284.8 346.7L285.8 347.0L286.8 347.3L287.8 347.6L288.8 347.8L289.8 348.1L290.8 348.4L291.8 348.6L292.8 348.9L293.8 349.2L294.8 349.4L295.8 349.7L296.8 349.9L297.8 350.2L298.8 350.4L299.8 350.6L300.8 350.9L301.8 351.1L302.8 351.3L303.8 351.6L304.8 351.8L305.8 352.0L306.8 352.2L307.8 352.5L308.8 352.7L309.8 352.9L310.8 353.1L311.8 353.3L312.8 353.5L313.8 353.7L314.8 353.9L315.8 354.1L316.8 354.3L317.8 354.5L318.8 354.7L319.8 354.9L320.8 355.1L321.8 355.3L322.8 355.4L323.8 355.6L324.8 355.8L325.8 356.0L326.8 356.1L327.8 356.3L328.8 356.5L329.8 356.7L330.8 356.8L331.8 357.0L332.8 357.2L333.8 357.3L334.8 357.5L335.8 357.7L336.8 357.8L337.8 358.0L338.8 358.1L339.8 358.3L340.8 358.4L341.8 358.6L342.8 358.7L343.8 358.9L344.8 359.0L345.8 359.2L346.8 359.3L347.8 359.4L348.8 359.6L349.8 359.7L350.8 359.9L351.8 360.0L352.8 360.1L353.8 360.3L354.8 360.4L355.8 360.5L356.8 360.7L357.8 360.8L358.8 360.9L359.8 361.0L360.8 361.2L361.8 361.3L362.8 361.4L363.8 361.5L364.8 361.7L365.8 361.8L366.8 361.9L367.8 362.0L368.8 362.1L369.8 362.2L370.8 362.3L371.8 362.5L372.8 362.6L373.8 362.7L374.8 362.8L375.8 362.9L376.8 363.0L377.8 363.1L378.8 363.2L379.8 363.3L380.8 363.4L381.8 363.5L382.8 363.6L383.8 363.7L384.8 363.8L385.8 363.9L386.8 364.0L387.8 364.1L388.8 364.2L389.8 364.3L390.8 364.4L391.8 364.5L392.8 364.6L393.8 364.7L394.8 364.8L395.8 364.9L396.8 364.9L397.8 365.0L398.8 365.1L399.8 365.2L400.8 365.3L401.8 365.4L402.8 365.5L403.8 365.5L404.8 365.6L405.8 365.7L406.8 365.8L407.8 365.9L408.8 365.9L409.8 366.0L410.8 366.1L411.8 366.2L412.8 366.2L413.8 366.3L414.8 366.4L415.8 366.5L416.8 366.5L417.8 366.6L418.8 366.7L419.8 366.7L420.8 366.8L421.8 366.9L422.8 367.0L423.8 367.0L424.8 367.1L425.8 367.2L426.8 367.2L427.8 367.3L428.8 367.3L429.8 367.4L430.8 367.5L431.8 367.5L432.8 367.6L433.8 367.7L434.8 367.7L435.8 367.8L436.8 367.8L437.8 367.9L438.8 368.0L439.8 368.0L440.8 368.1L441.8 368.1L442.8 368.2L443.8 368.2L444.8 368.3L445.8 368.3L446.8 368.4L447.8 368.5L448.8 368.5L449.8 368.6L450.8 368.6L451.8 368.7L452.8 368.7L453.8 368.8L454.8 368.8L455.8 368.9L456.8 368.9L457.8 369.0L458.8 369.0L459.8 369.1L460.8 369.1L461.8 369.1L462.8 369.2L463.8 369.2L464.8 369.3L465.8 369.3L466.8 369.4L467.8 369.4L468.8 369.5L469.8 369.5L470.8 369.5L471.8 369.6L472.8 369.6L473.8 369.7L474.8 369.7L475.8 369.7L476.8 369.8L477.8 369.8L478.8 369.9L479.8 369.9L480.8 369.9L481.8 370.0L482.8 370.0L483.8 370.0L484.8 370.1L485.8 370.1L486.8 370.1L487.8 370.2L488.8 370.2L489.8 370.2L490.8 370.3L491.8 370.3L492.8 370.3L493.8 370.4L494.8 370.4L495.8 370.4L496.8 370.5L497.8 370.5L498.8 370.5L499.8 370.6L500.8 370.6L501.8 370.6L502.8 370.6L503.8 370.7L504.8 370.7L505.8 370.7L506.8 370.7L507.8 370.8L508.8 370.8L509.8 370.8L510.8 370.9L511.8 370.9L512.8 370.9L513.8 370.9L514.8 370.9L515.8 371.0L516.8 371.0L517.8 371.0L518.8 371.0L519.8 371.1L520.8 371.1L521.8 371.1L522.8 371.1L523.8 371.1L524.8 371.2L525.8 371.2L526.8 371.2L527.8 371.2L528.8 371.3L529.8 371.3L530.8 371.3L531.8 371.3L532.8 371.3L533.8 371.3L534.8 371.4L535.8 371.4L536.8 371.4L537.8 371.4L538.8 371.4L539.8 371.4L540.8 371.5L541.8 371.5L542.8 371.5L543.8 371.5" stroke="#703c16" stroke-width="2.4" stroke-dasharray="11 5"/>
</g>
<g fill="none" stroke="#3a3a3a" stroke-width="1.3">
<rect x="60.8" y="9.0" width="482.99999999999994" height="363.0"/>
<path d="M60.80 372.0V367.0M60.80 9.0V14.0M109.10 372.0V367.0M109.10 9.0V14.0M157.40 372.0V367.0M157.40 9.0V14.0M205.70 372.0V367.0M205.70 9.0V14.0M254.00 372.0V367.0M254.00 9.0V14.0M302.30 372.0V367.0M302.30 9.0V14.0M350.60 372.0V367.0M350.60 9.0V14.0M398.90 372.0V367.0M398.90 9.0V14.0M447.20 372.0V367.0M447.20 9.0V14.0M495.50 372.0V367.0M495.50 9.0V14.0M543.80 372.0V367.0M543.80 9.0V14.0M60.8 372.00H65.8M543.8 372.00H538.8M60.8 331.67H65.8M543.8 331.67H538.8M60.8 291.33H65.8M543.8 291.33H538.8M60.8 251.00H65.8M543.8 251.00H538.8M60.8 210.67H65.8M543.8 210.67H538.8M60.8 170.33H65.8M543.8 170.33H538.8M60.8 130.00H65.8M543.8 130.00H538.8M60.8 89.67H65.8M543.8 89.67H538.8M60.8 49.33H65.8M543.8 49.33H538.8M60.8 9.00H65.8M543.8 9.00H538.8"/>
</g>
<g fill="none" stroke="#2616b8" stroke-width="2.9" stroke-linecap="round" stroke-dasharray="0 4.3">
<path d="M60.8 235.2L61.8 236.8L62.8 238.3L63.8 239.8L64.8 241.4L65.8 242.9L66.8 244.5L67.8 246.0L68.8 247.6L69.8 249.1L70.8 250.7L71.8 252.3L72.8 253.8L73.8 255.4L74.8 257.0L75.8 258.5L76.8 260.1L77.8 261.7L78.8 263.2L79.8 264.8L80.8 266.4L81.8 268.0L82.8 269.5L83.8 271.1L84.8 272.7L85.8 274.3L86.8 275.8L87.8 277.4L88.8 279.0L89.8 280.6L90.8 282.1L91.8 283.7L92.8 285.2L93.8 286.8L94.8 288.3L95.8 289.9L96.8 291.4L97.8 292.9L98.8 294.4L99.8 295.9L100.8 297.4L101.8 298.9L102.8 300.4L103.8 301.8L104.8 303.2L105.8 304.7L106.8 306.1L107.8 307.4L108.8 308.8L109.8 310.2L110.8 311.5L111.8 312.8L112.8 314.1L113.8 315.4L114.8 316.7L115.8 317.9L116.8 319.1L117.8 320.3L118.8 321.5L119.8 322.7L120.8 323.8L121.8 324.9L122.8 326.1L123.8 327.1L124.8 328.2L125.8 329.3L126.8 330.3L127.8 331.3L128.8 332.3L129.8 333.3L130.8 334.2L131.8 335.1L132.8 336.0L133.8 336.9L134.8 337.8L135.8 338.7L136.8 339.5L137.8 340.3L138.8 341.1L139.8 341.9L140.8 342.7L141.8 343.4L142.8 344.2L143.8 344.9L144.8 345.6L145.8 346.3L146.8 346.9L147.8 347.6L148.8 348.2L149.8 348.8L150.8 349.4L151.8 350.0L152.8 350.6L153.8 351.2L154.8 351.7L155.8 352.3L156.8 352.8L157.8 353.3L158.8 353.8L159.8 354.3L160.8 354.7L161.8 355.2L162.8 355.6L163.8 356.1L164.8 356.5L165.8 356.9L166.8 357.3L167.8 357.7L168.8 358.1L169.8 358.5L170.8 358.8L171.8 359.2L172.8 359.5L173.8 359.8L174.8 360.2L175.8 360.5L176.8 360.8L177.8 361.1L178.8 361.4L179.8 361.7L180.8 361.9L181.8 362.2L182.8 362.4L183.8 362.7L184.8 362.9L185.8 363.2L186.8 363.4L187.8 363.6L188.8 363.8L189.8 364.1L190.8 364.3L191.8 364.5L192.8 364.7L193.8 364.8L194.8 365.0L195.8 365.2L196.8 365.4L197.8 365.5L198.8 365.7L199.8 365.9L200.8 366.0L201.8 366.2L202.8 366.3L203.8 366.4L204.8 366.6L205.8 366.7L206.8 366.8L207.8 367.0L208.8 367.1L209.8 367.2L210.8 367.3L211.8 367.4L212.8 367.5L213.8 367.6L214.8 367.7L215.8 367.8L216.8 367.9L217.8 368.0L218.8 368.1L219.8 368.2L220.8 368.2L221.8 368.3L222.8 368.4L223.8 368.5L224.8 368.5L225.8 368.6L226.8 368.7L227.8 368.7L228.8 368.8L229.8 368.9L230.8 368.9L231.8 369.0L232.8 369.0L233.8 369.1L234.8 369.1L235.8 369.2L236.8 369.2L237.8 369.3L238.8 369.3L239.8 369.4L240.8 369.4L241.8 369.5L242.8 369.5L243.8 369.5L244.8 369.6L245.8 369.6L246.8 369.6L247.8 369.7L248.8 369.7L249.8 369.7L250.8 369.8L251.8 369.8L252.8 369.8L253.8 369.9L254.8 369.9L255.8 369.9L256.8 369.9L257.8 370.0L258.8 370.0L259.8 370.0L260.8 370.0L261.8 370.1L262.8 370.1L263.8 370.1L264.8 370.1L265.8 370.1L266.8 370.2L267.8 370.2L268.8 370.2L269.8 370.2L270.8 370.2L271.8 370.3L272.8 370.3L273.8 370.3L274.8 370.3L275.8 370.3L276.8 370.3L277.8 370.4L278.8 370.4L279.8 370.4L280.8 370.4L281.8 370.4L282.8 370.4L283.8 370.4L284.8 370.4L285.8 370.5L286.8 370.5L287.8 370.5L288.8 370.5L289.8 370.5L290.8 370.5L291.8 370.5L292.8 370.5L293.8 370.6L294.8 370.6L295.8 370.6L296.8 370.6L297.8 370.6L298.8 370.6L299.8 370.6L300.8 370.6L301.8 370.6L302.8 370.7L303.8 370.7L304.8 370.7L305.8 370.7L306.8 370.7L307.8 370.7L308.8 370.7L309.8 370.7L310.8 370.7L311.8 370.8L312.8 370.8L313.8 370.8L314.8 370.8L315.8 370.8L316.8 370.8L317.8 370.8L318.8 370.8L319.8 370.8L320.8 370.8L321.8 370.9L322.8 370.9L323.8 370.9L324.8 370.9L325.8 370.9L326.8 370.9L327.8 370.9L328.8 370.9L329.8 370.9L330.8 370.9L331.8 371.0L332.8 371.0L333.8 371.0L334.8 371.0L335.8 371.0L336.8 371.0L337.8 371.0L338.8 371.0L339.8 371.0L340.8 371.0L341.8 371.0L342.8 371.1L343.8 371.1L344.8 371.1L345.8 371.1L346.8 371.1L347.8 371.1L348.8 371.1L349.8 371.1L350.8 371.1L351.8 371.1L352.8 371.1L353.8 371.1L354.8 371.2L355.8 371.2L356.8 371.2L357.8 371.2L358.8 371.2L359.8 371.2L360.8 371.2L361.8 371.2L362.8 371.2L363.8 371.2L364.8 371.2L365.8 371.2L366.8 371.2L367.8 371.3L368.8 371.3L369.8 371.3L370.8 371.3L371.8 371.3L372.8 371.3L373.8 371.3L374.8 371.3L375.8 371.3L376.8 371.3L377.8 371.3L378.8 371.3L379.8 371.3L380.8 371.3L381.8 371.4L382.8 371.4L383.8 371.4L384.8 371.4L385.8 371.4L386.8 371.4L387.8 371.4L388.8 371.4L389.8 371.4L390.8 371.4L391.8 371.4L392.8 371.4L393.8 371.4L394.8 371.4L395.8 371.4L396.8 371.4L397.8 371.4L398.8 371.5L399.8 371.5L400.8 371.5L401.8 371.5L402.8 371.5L403.8 371.5L404.8 371.5L405.8 371.5L406.8 371.5L407.8 371.5L408.8 371.5L409.8 371.5L410.8 371.5L411.8 371.5L412.8 371.5L413.8 371.5L414.8 371.5L415.8 371.5L416.8 371.5L417.8 371.5L418.8 371.6L419.8 371.6L420.8 371.6L421.8 371.6L422.8 371.6L423.8 371.6L424.8 371.6L425.8 371.6L426.8 371.6L427.8 371.6L428.8 371.6L429.8 371.6L430.8 371.6L431.8 371.6L432.8 371.6L433.8 371.6L434.8 371.6L435.8 371.6L436.8 371.6L437.8 371.6L438.8 371.6L439.8 371.6L440.8 371.6L441.8 371.6L442.8 371.6L443.8 371.6L444.8 371.6L445.8 371.6L446.8 371.7L447.8 371.7L448.8 371.7L449.8 371.7L450.8 371.7L451.8 371.7L452.8 371.7L453.8 371.7L454.8 371.7L455.8 371.7L456.8 371.7L457.8 371.7L458.8 371.7L459.8 371.7L460.8 371.7L461.8 371.7L462.8 371.7L463.8 371.7L464.8 371.7L465.8 371.7L466.8 371.7L467.8 371.7L468.8 371.7L469.8 371.7L470.8 371.7L471.8 371.7L472.8 371.7L473.8 371.7L474.8 371.7L475.8 371.7L476.8 371.7L477.8 371.7L478.8 371.7L479.8 371.7L480.8 371.7L481.8 371.7L482.8 371.7L483.8 371.7L484.8 371.7L485.8 371.7L486.8 371.7L487.8 371.7L488.8 371.7L489.8 371.7L490.8 371.7L491.8 371.7L492.8 371.7L493.8 371.7L494.8 371.7L495.8 371.7L496.8 371.7L497.8 371.7L498.8 371.7L499.8 371.7L500.8 371.7L501.8 371.7L502.8 371.7L503.8 371.7L504.8 371.7L505.8 371.7L506.8 371.7L507.8 371.7L508.8 371.7L509.8 371.7L510.8 371.7L511.8 371.7L512.8 371.7L513.8 371.7L514.8 371.7L515.8 371.7L516.8 371.7L517.8 371.7L518.8 371.7L519.8 371.7L520.8 371.7L521.8 371.7L522.8 371.7L523.8 371.7L524.8 371.7L525.8 371.7L526.8 371.7L527.8 371.7L528.8 371.6L529.8 371.6L530.8 371.6L531.8 371.6L532.8 371.6L533.8 371.6L534.8 371.6L535.8 371.6L536.8 371.6L537.8 371.6L538.8 371.6L539.8 371.6L540.8 371.6L541.8 371.6L542.8 371.6L543.8 371.6"/>
<path d="M60.8 247.7L61.8 249.2L62.8 250.7L63.8 252.2L64.8 253.8L65.8 255.3L66.8 256.8L67.8 258.4L68.8 259.9L69.8 261.4L70.8 262.9L71.8 264.5L72.8 266.0L73.8 267.5L74.8 269.0L75.8 270.6L76.8 272.1L77.8 273.6L78.8 275.1L79.8 276.6L80.8 278.1L81.8 279.6L82.8 281.1L83.8 282.6L84.8 284.1L85.8 285.6L86.8 287.1L87.8 288.6L88.8 290.1L89.8 291.5L90.8 293.0L91.8 294.5L92.8 295.9L93.8 297.3L94.8 298.8L95.8 300.2L96.8 301.6L97.8 303.0L98.8 304.4L99.8 305.8L100.8 307.2L101.8 308.5L102.8 309.9L103.8 311.2L104.8 312.5L105.8 313.8L106.8 315.1L107.8 316.3L108.8 317.6L109.8 318.8L110.8 320.0L111.8 321.2L112.8 322.4L113.8 323.5L114.8 324.7L115.8 325.8L116.8 326.9L117.8 328.0L118.8 329.1L119.8 330.1L120.8 331.1L121.8 332.1L122.8 333.1L123.8 334.1L124.8 335.1L125.8 336.0L126.8 336.9L127.8 337.8L128.8 338.7L129.8 339.6L130.8 340.4L131.8 341.3L132.8 342.1L133.8 342.9L134.8 343.7L135.8 344.4L136.8 345.2L137.8 345.9L138.8 346.6L139.8 347.3L140.8 348.0L141.8 348.6L142.8 349.2L143.8 349.9L144.8 350.5L145.8 351.1L146.8 351.6L147.8 352.2L148.8 352.8L149.8 353.3L150.8 353.8L151.8 354.3L152.8 354.8L153.8 355.3L154.8 355.7L155.8 356.2L156.8 356.6L157.8 357.1L158.8 357.5L159.8 357.9L160.8 358.3L161.8 358.6L162.8 359.0L163.8 359.4L164.8 359.7L165.8 360.0L166.8 360.4L167.8 360.7L168.8 361.0L169.8 361.3L170.8 361.6L171.8 361.9L172.8 362.1L173.8 362.4L174.8 362.6L175.8 362.9L176.8 363.1L177.8 363.4L178.8 363.6L179.8 363.8L180.8 364.0L181.8 364.2L182.8 364.4L183.8 364.6L184.8 364.8L185.8 365.0L186.8 365.2L187.8 365.4L188.8 365.5L189.8 365.7L190.8 365.9L191.8 366.0L192.8 366.2L193.8 366.3L194.8 366.4L195.8 366.6L196.8 366.7L197.8 366.8L198.8 367.0L199.8 367.1L200.8 367.2L201.8 367.3L202.8 367.4L203.8 367.5L204.8 367.6L205.8 367.7L206.8 367.8L207.8 367.9L208.8 368.0L209.8 368.1L210.8 368.2L211.8 368.3L212.8 368.4L213.8 368.5L214.8 368.5L215.8 368.6L216.8 368.7L217.8 368.8L218.8 368.8L219.8 368.9L220.8 369.0L221.8 369.0L222.8 369.1L223.8 369.1L224.8 369.2L225.8 369.2L226.8 369.3L227.8 369.4L228.8 369.4L229.8 369.5L230.8 369.5L231.8 369.5L232.8 369.6L233.8 369.6L234.8 369.7L235.8 369.7L236.8 369.8L237.8 369.8L238.8 369.8L239.8 369.9L240.8 369.9L241.8 369.9L242.8 370.0L243.8 370.0L244.8 370.0L245.8 370.1L246.8 370.1L247.8 370.1L248.8 370.1L249.8 370.2L250.8 370.2L251.8 370.2L252.8 370.3L253.8 370.3L254.8 370.3L255.8 370.3L256.8 370.3L257.8 370.4L258.8 370.4L259.8 370.4L260.8 370.4L261.8 370.5L262.8 370.5L263.8 370.5L264.8 370.5L265.8 370.5L266.8 370.5L267.8 370.6L268.8 370.6L269.8 370.6L270.8 370.6L271.8 370.6L272.8 370.6L273.8 370.7L274.8 370.7L275.8 370.7L276.8 370.7L277.8 370.7L278.8 370.7L279.8 370.7L280.8 370.7L281.8 370.8L282.8 370.8L283.8 370.8L284.8 370.8L285.8 370.8L286.8 370.8L287.8 370.8L288.8 370.8L289.8 370.8L290.8 370.9L291.8 370.9L292.8 370.9L293.8 370.9L294.8 370.9L295.8 370.9L296.8 370.9L297.8 370.9L298.8 370.9L299.8 370.9L300.8 371.0L301.8 371.0L302.8 371.0L303.8 371.0L304.8 371.0L305.8 371.0L306.8 371.0L307.8 371.0L308.8 371.0L309.8 371.0L310.8 371.0L311.8 371.1L312.8 371.1L313.8 371.1L314.8 371.1L315.8 371.1L316.8 371.1L317.8 371.1L318.8 371.1L319.8 371.1L320.8 371.1L321.8 371.1L322.8 371.1L323.8 371.2L324.8 371.2L325.8 371.2L326.8 371.2L327.8 371.2L328.8 371.2L329.8 371.2L330.8 371.2L331.8 371.2L332.8 371.2L333.8 371.2L334.8 371.2L335.8 371.2L336.8 371.3L337.8 371.3L338.8 371.3L339.8 371.3L340.8 371.3L341.8 371.3L342.8 371.3L343.8 371.3L344.8 371.3L345.8 371.3L346.8 371.3L347.8 371.3L348.8 371.3L349.8 371.3L350.8 371.3L351.8 371.4L352.8 371.4L353.8 371.4L354.8 371.4L355.8 371.4L356.8 371.4L357.8 371.4L358.8 371.4L359.8 371.4L360.8 371.4L361.8 371.4L362.8 371.4L363.8 371.4L364.8 371.4L365.8 371.4L366.8 371.4L367.8 371.4L368.8 371.5L369.8 371.5L370.8 371.5L371.8 371.5L372.8 371.5L373.8 371.5L374.8 371.5L375.8 371.5L376.8 371.5L377.8 371.5L378.8 371.5L379.8 371.5L380.8 371.5L381.8 371.5L382.8 371.5L383.8 371.5L384.8 371.5L385.8 371.5L386.8 371.5L387.8 371.5L388.8 371.5L389.8 371.6L390.8 371.6L391.8 371.6L392.8 371.6L393.8 371.6L394.8 371.6L395.8 371.6L396.8 371.6L397.8 371.6L398.8 371.6L399.8 371.6L400.8 371.6L401.8 371.6L402.8 371.6L403.8 371.6L404.8 371.6L405.8 371.6L406.8 371.6L407.8 371.6L408.8 371.6L409.8 371.6L410.8 371.6L411.8 371.6L412.8 371.6L413.8 371.6L414.8 371.6L415.8 371.7L416.8 371.7L417.8 371.7L418.8 371.7L419.8 371.7L420.8 371.7L421.8 371.7L422.8 371.7L423.8 371.7L424.8 371.7L425.8 371.7L426.8 371.7L427.8 371.7L428.8 371.7L429.8 371.7L430.8 371.7L431.8 371.7L432.8 371.7L433.8 371.7L434.8 371.7L435.8 371.7L436.8 371.7L437.8 371.7L438.8 371.7L439.8 371.7L440.8 371.7L441.8 371.7L442.8 371.7L443.8 371.7L444.8 371.7L445.8 371.7L446.8 371.7L447.8 371.7L448.8 371.7L449.8 371.7L450.8 371.7L451.8 371.7L452.8 371.7L453.8 371.7L454.8 371.7L455.8 371.7L456.8 371.7L457.8 371.7L458.8 371.7L459.8 371.7L460.8 371.7L461.8 371.7L462.8 371.8L463.8 371.8L464.8 371.8L465.8 371.8L466.8 371.8L467.8 371.8L468.8 371.8L469.8 371.8L470.8 371.8L471.8 371.8L472.8 371.8L473.8 371.8L474.8 371.8L475.8 371.8L476.8 371.8L477.8 371.8L478.8 371.8L479.8 371.8L480.8 371.8L481.8 371.8L482.8 371.8L483.8 371.8L484.8 371.8L485.8 371.8L486.8 371.8L487.8 371.8L488.8 371.8L489.8 371.8L490.8 371.8L491.8 371.8L492.8 371.8L493.8 371.8L494.8 371.8L495.8 371.8L496.8 371.8L497.8 371.8L498.8 371.8L499.8 371.8L500.8 371.8L501.8 371.8L502.8 371.8L503.8 371.8L504.8 371.8L505.8 371.8L506.8 371.8L507.8 371.8L508.8 371.8L509.8 371.8L510.8 371.8L511.8 371.8L512.8 371.8L513.8 371.8L514.8 371.7L515.8 371.7L516.8 371.7L517.8 371.7L518.8 371.7L519.8 371.7L520.8 371.7L521.8 371.7L522.8 371.7L523.8 371.7L524.8 371.7L525.8 371.7L526.8 371.7L527.8 371.7L528.8 371.7L529.8 371.7L530.8 371.7L531.8 371.7L532.8 371.7L533.8 371.7L534.8 371.7L535.8 371.7L536.8 371.7L537.8 371.7L538.8 371.7L539.8 371.7L540.8 371.7L541.8 371.7L542.8 371.7L543.8 371.7"/>
<path d="M60.8 258.1L61.8 259.6L62.8 261.1L63.8 262.6L64.8 264.1L65.8 265.6L66.8 267.1L67.8 268.7L68.8 270.2L69.8 271.8L70.8 273.3L71.8 274.9L72.8 276.5L73.8 278.0L74.8 279.6L75.8 281.1L76.8 282.6L77.8 284.2L78.8 285.7L79.8 287.2L80.8 288.7L81.8 290.2L82.8 291.7L83.8 293.2L84.8 294.7L85.8 296.2L86.8 297.6L87.8 299.0L88.8 300.4L89.8 301.8L90.8 303.2L91.8 304.6L92.8 305.9L93.8 307.3L94.8 308.6L95.8 309.9L96.8 311.2L97.8 312.5L98.8 313.7L99.8 315.0L100.8 316.2L101.8 317.4L102.8 318.6L103.8 319.8L104.8 320.9L105.8 322.1L106.8 323.2L107.8 324.3L108.8 325.4L109.8 326.4L110.8 327.5L111.8 328.5L112.8 329.6L113.8 330.6L114.8 331.6L115.8 332.5L116.8 333.5L117.8 334.4L118.8 335.3L119.8 336.3L120.8 337.1L121.8 338.0L122.8 338.9L123.8 339.7L124.8 340.6L125.8 341.4L126.8 342.2L127.8 343.0L128.8 343.7L129.8 344.5L130.8 345.2L131.8 345.9L132.8 346.6L133.8 347.3L134.8 348.0L135.8 348.7L136.8 349.3L137.8 349.9L138.8 350.5L139.8 351.1L140.8 351.7L141.8 352.3L142.8 352.8L143.8 353.4L144.8 353.9L145.8 354.4L146.8 354.9L147.8 355.4L148.8 355.9L149.8 356.4L150.8 356.8L151.8 357.2L152.8 357.7L153.8 358.1L154.8 358.5L155.8 358.9L156.8 359.3L157.8 359.6L158.8 360.0L159.8 360.3L160.8 360.7L161.8 361.0L162.8 361.3L163.8 361.6L164.8 361.9L165.8 362.2L166.8 362.5L167.8 362.8L168.8 363.0L169.8 363.3L170.8 363.5L171.8 363.8L172.8 364.0L173.8 364.2L174.8 364.5L175.8 364.7L176.8 364.9L177.8 365.1L178.8 365.3L179.8 365.5L180.8 365.7L181.8 365.8L182.8 366.0L183.8 366.2L184.8 366.3L185.8 366.5L186.8 366.6L187.8 366.8L188.8 366.9L189.8 367.1L190.8 367.2L191.8 367.3L192.8 367.5L193.8 367.6L194.8 367.7L195.8 367.8L196.8 367.9L197.8 368.0L198.8 368.2L199.8 368.3L200.8 368.4L201.8 368.5L202.8 368.5L203.8 368.6L204.8 368.7L205.8 368.8L206.8 368.9L207.8 369.0L208.8 369.0L209.8 369.1L210.8 369.2L211.8 369.3L212.8 369.3L213.8 369.4L214.8 369.5L215.8 369.5L216.8 369.6L217.8 369.6L218.8 369.7L219.8 369.7L220.8 369.8L221.8 369.8L222.8 369.9L223.8 369.9L224.8 370.0L225.8 370.0L226.8 370.1L227.8 370.1L228.8 370.2L229.8 370.2L230.8 370.2L231.8 370.3L232.8 370.3L233.8 370.3L234.8 370.4L235.8 370.4L236.8 370.4L237.8 370.5L238.8 370.5L239.8 370.5L240.8 370.5L241.8 370.6L242.8 370.6L243.8 370.6L244.8 370.6L245.8 370.7L246.8 370.7L247.8 370.7L248.8 370.7L249.8 370.7L250.8 370.8L251.8 370.8L252.8 370.8L253.8 370.8L254.8 370.8L255.8 370.8L256.8 370.9L257.8 370.9L258.8 370.9L259.8 370.9L260.8 370.9L261.8 370.9L262.8 370.9L263.8 371.0L264.8 371.0L265.8 371.0L266.8 371.0L267.8 371.0L268.8 371.0L269.8 371.0L270.8 371.0L271.8 371.0L272.8 371.1L273.8 371.1L274.8 371.1L275.8 371.1L276.8 371.1L277.8 371.1L278.8 371.1L279.8 371.1L280.8 371.1L281.8 371.1L282.8 371.1L283.8 371.1L284.8 371.1L285.8 371.2L286.8 371.2L287.8 371.2L288.8 371.2L289.8 371.2L290.8 371.2L291.8 371.2L292.8 371.2L293.8 371.2L294.8 371.2L295.8 371.2L296.8 371.2L297.8 371.2L298.8 371.2L299.8 371.2L300.8 371.2L301.8 371.2L302.8 371.3L303.8 371.3L304.8 371.3L305.8 371.3L306.8 371.3L307.8 371.3L308.8 371.3L309.8 371.3L310.8 371.3L311.8 371.3L312.8 371.3L313.8 371.3L314.8 371.3L315.8 371.3L316.8 371.3L317.8 371.3L318.8 371.3L319.8 371.3L320.8 371.3L321.8 371.4L322.8 371.4L323.8 371.4L324.8 371.4L325.8 371.4L326.8 371.4L327.8 371.4L328.8 371.4L329.8 371.4L330.8 371.4L331.8 371.4L332.8 371.4L333.8 371.4L334.8 371.4L335.8 371.4L336.8 371.4L337.8 371.4L338.8 371.4L339.8 371.4L340.8 371.4L341.8 371.5L342.8 371.5L343.8 371.5L344.8 371.5L345.8 371.5L346.8 371.5L347.8 371.5L348.8 371.5L349.8 371.5L350.8 371.5L351.8 371.5L352.8 371.5L353.8 371.5L354.8 371.5L355.8 371.5L356.8 371.5L357.8 371.5L358.8 371.5L359.8 371.5L360.8 371.5L361.8 371.5L362.8 371.5L363.8 371.6L364.8 371.6L365.8 371.6L366.8 371.6L367.8 371.6L368.8 371.6L369.8 371.6L370.8 371.6L371.8 371.6L372.8 371.6L373.8 371.6L374.8 371.6L375.8 371.6L376.8 371.6L377.8 371.6L378.8 371.6L379.8 371.6L380.8 371.6L381.8 371.6L382.8 371.6L383.8 371.6L384.8 371.6L385.8 371.6L386.8 371.6L387.8 371.6L388.8 371.7L389.8 371.7L390.8 371.7L391.8 371.7L392.8 371.7L393.8 371.7L394.8 371.7L395.8 371.7L396.8 371.7L397.8 371.7L398.8 371.7L399.8 371.7L400.8 371.7L401.8 371.7L402.8 371.7L403.8 371.7L404.8 371.7L405.8 371.7L406.8 371.7L407.8 371.7L408.8 371.7L409.8 371.7L410.8 371.7L411.8 371.7L412.8 371.7L413.8 371.7L414.8 371.7L415.8 371.7L416.8 371.7L417.8 371.7L418.8 371.7L419.8 371.8L420.8 371.8L421.8 371.8L422.8 371.8L423.8 371.8L424.8 371.8L425.8 371.8L426.8 371.8L427.8 371.8L428.8 371.8L429.8 371.8L430.8 371.8L431.8 371.8L432.8 371.8L433.8 371.8L434.8 371.8L435.8 371.8L436.8 371.8L437.8 371.8L438.8 371.8L439.8 371.8L440.8 371.8L441.8 371.8L442.8 371.8L443.8 371.8L444.8 371.8L445.8 371.8L446.8 371.8L447.8 371.8L448.8 371.8L449.8 371.8L450.8 371.8L451.8 371.8L452.8 371.8L453.8 371.8L454.8 371.8L455.8 371.8L456.8 371.8L457.8 371.8L458.8 371.8L459.8 371.8L460.8 371.8L461.8 371.8L462.8 371.8L463.8 371.8L464.8 371.8L465.8 371.8L466.8 371.8L467.8 371.8L468.8 371.8L469.8 371.8L470.8 371.8L471.8 371.8L472.8 371.8L473.8 371.8L474.8 371.8L475.8 371.8L476.8 371.8L477.8 371.8L478.8 371.8L479.8 371.9L480.8 371.9L481.8 371.9L482.8 371.9L483.8 371.9L484.8 371.9L485.8 371.9L486.8 371.9L487.8 371.9L488.8 371.9L489.8 371.9L490.8 371.9L491.8 371.9L492.8 371.9L493.8 371.9L494.8 371.9L495.8 371.9L496.8 371.9L497.8 371.9L498.8 371.9L499.8 371.9L500.8 371.9L501.8 371.9L502.8 371.9L503.8 371.9L504.8 371.9L505.8 371.9L506.8 371.9L507.8 371.8L508.8 371.8L509.8 371.8L510.8 371.8L511.8 371.8L512.8 371.8L513.8 371.8L514.8 371.8L515.8 371.8L516.8 371.8L517.8 371.8L518.8 371.8L519.8 371.8L520.8 371.8L521.8 371.8L522.8 371.8L523.8 371.8L524.8 371.8L525.8 371.8L526.8 371.8L527.8 371.8L528.8 371.8L529.8 371.8L530.8 371.8L531.8 371.8L532.8 371.8L533.8 371.8L534.8 371.8L535.8 371.8L536.8 371.8L537.8 371.8L538.8 371.8L539.8 371.8L540.8 371.8L541.8 371.8L542.8 371.8L543.8 371.8"/>
</g>
<path d="M250 370.3L300 371.0L544 371.6" stroke="#2616b8" stroke-width="3.0" fill="none"/>
<g font-family="Liberation Sans, Arial, sans-serif" font-size="14" fill="#262626">
<text x="59.60" y="393.3" text-anchor="middle">0</text><text x="107.90" y="393.3" text-anchor="middle">0.5</text><text x="156.20" y="393.3" text-anchor="middle">1</text><text x="204.50" y="393.3" text-anchor="middle">1.5</text><text x="252.80" y="393.3" text-anchor="middle">2</text><text x="301.10" y="393.3" text-anchor="middle">2.5</text><text x="349.40" y="393.3" text-anchor="middle">3</text><text x="397.70" y="393.3" text-anchor="middle">3.5</text><text x="446.00" y="393.3" text-anchor="middle">4</text><text x="494.30" y="393.3" text-anchor="middle">4.5</text><text x="542.60" y="393.3" text-anchor="middle">5</text>
<text x="52.6" y="377.90" text-anchor="end">0</text><text x="52.6" y="337.57" text-anchor="end">0.05</text><text x="52.6" y="297.23" text-anchor="end">0.1</text><text x="52.6" y="256.90" text-anchor="end">0.15</text><text x="52.6" y="216.57" text-anchor="end">0.2</text><text x="52.6" y="176.23" text-anchor="end">0.25</text><text x="52.6" y="135.90" text-anchor="end">0.3</text><text x="52.6" y="95.57" text-anchor="end">0.35</text><text x="52.6" y="55.23" text-anchor="end">0.4</text><text x="52.6" y="14.90" text-anchor="end">0.45</text>
</g>
<text x="298.6" y="415.2" font-family="DejaVu Serif, serif" font-size="14" fill="#333">ζ</text>
<text transform="translate(17.5 203.5) rotate(-90)" font-family="Liberation Serif, serif" font-style="italic" font-size="17" fill="#333">θ(ζ)</text>
<g stroke="#000" stroke-width="2.4" fill="none" stroke-linecap="round"><path d="M99.6 340.8L220.5 225.2"/></g>
<path d="M232.8 213.3L211.8 222.9L221.0 224.6L223.3 234.0Z" fill="#000"/>
<text x="205" y="207.4" font-family="Liberation Sans, Arial, sans-serif" font-size="14" fill="#1a1a2a">Nb=0.5,1,1.5</text>
<g font-family="Liberation Sans, Arial, sans-serif" font-weight="bold" font-size="23.5" fill="#111118" stroke="#111118" stroke-width="0.8">
<text transform="translate(359.6 64.0) scale(0.66 1)" textLength="58.5" lengthAdjust="spacing">Solid</text>
<text transform="translate(425.8 64.0) scale(0.80 1)" stroke-width="0.3">:</text>
<text transform="translate(440.8 64.0) scale(0.66 1)" textLength="63.9" lengthAdjust="spacing">Plate</text>
<text transform="translate(359.9 92.8) scale(0.66 1)" textLength="88.9" lengthAdjust="spacing">Dashed</text>
<text transform="translate(427.3 92.8) scale(0.80 1)" stroke-width="0.3">:</text>
<text transform="translate(436.6 92.8) scale(0.66 1)" textLength="77.3" lengthAdjust="spacing">Wedge</text>
<text transform="translate(360.0 121.6) scale(0.66 1)" textLength="76.4" lengthAdjust="spacing">Dotted</text>
<text transform="translate(425.5 121.6) scale(0.80 1)" stroke-width="0.3">:</text>
<text transform="translate(434.0 121.6) scale(0.66 1)" textLength="60.3" lengthAdjust="spacing">Cone</text>
</g>
</svg>
</body></html>
